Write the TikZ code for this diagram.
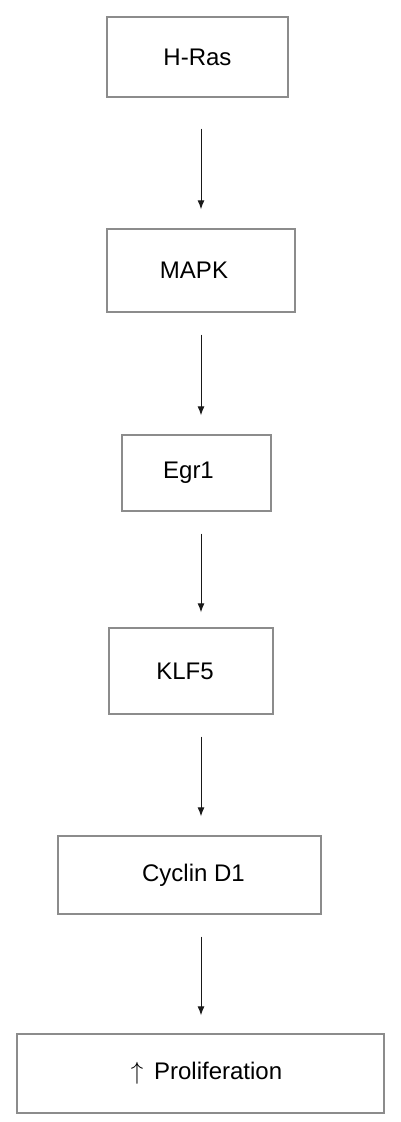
\documentclass[tikz,border=0pt]{standalone}
\usepackage{fontspec}
\setmainfont{Liberation Sans}
\usetikzlibrary{arrows.meta}

\begin{document}
\begin{tikzpicture}[x=1pt,y=-1pt,
  box/.style={draw=boxColor,line width=1.4pt,inner sep=0pt,text=black,font=\fontsize{24}{28}\selectfont},
  flow/.style={draw=arrowColor,line width=1pt,-{Latex[length=9pt,width=7pt]},shorten <=22pt,shorten >=19pt}]
\definecolor{boxColor}{gray}{0.55}
\definecolor{arrowColor}{gray}{0.10}
\path[use as bounding box,fill=white] (0,0) rectangle (400,1122);

\node[box,minimum width=181pt,minimum height=80pt] (hras) at (197.5,57) {H-Ras};
\node[box,minimum width=188pt,minimum height=83pt] (mapk) at (201,270.5) {MAPK\hspace*{14pt}};
\node[box,minimum width=149pt,minimum height=76pt] (egr) at (196.5,473) {Egr1\hspace*{16pt}};
\node[box,minimum width=164pt,minimum height=86pt] (klf) at (191,671) {KLF5\hspace*{12pt}};
\node[box,minimum width=263pt,minimum height=78pt] (ccnd) at (189.5,875) {\hspace*{8pt}Cyclin D1};
\node[box,minimum width=367pt,minimum height=79pt] (prolif) at (200.5,1073.5) {\hspace*{12pt}$\uparrow$\hspace{0.45em}Proliferation};

% arrows run down one common axis
\coordinate (spine) at (201,0);
\draw[flow,shorten <=31pt] (hras.south -| spine) -- (mapk.north -| spine);
\draw[flow] (mapk.south -| spine) -- (egr.north -| spine);
\draw[flow,shorten >=15pt] (egr.south -| spine) -- (klf.north -| spine);
\draw[flow] (klf.south -| spine) -- (ccnd.north -| spine);
\draw[flow,shorten >=18pt] (ccnd.south -| spine) -- (prolif.north -| spine);
\end{tikzpicture}
\end{document}
